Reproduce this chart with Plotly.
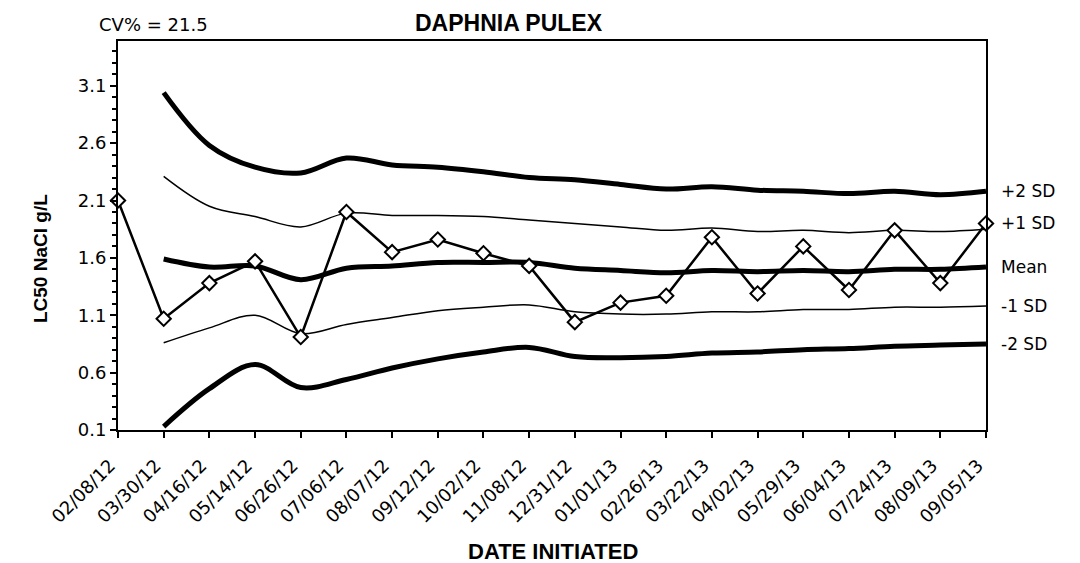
"""Daphnia pulex LC50 reference toxicant control chart."""

import plotly.graph_objects as go

dates = [
    "02/08/12", "03/30/12", "04/16/12", "05/14/12", "06/26/12",
    "07/06/12", "08/07/12", "09/12/12", "10/02/12", "11/08/12",
    "12/31/12", "01/01/13", "02/26/13", "03/22/13", "04/02/13",
    "05/29/13", "06/04/13", "07/24/13", "08/09/13", "09/05/13",
]
lc50 = [2.10, 1.07, 1.38, 1.57, 0.91, 2.00, 1.65, 1.76, 1.64, 1.53,
        1.04, 1.21, 1.27, 1.78, 1.29, 1.70, 1.32, 1.84, 1.38, 1.90]

# control limits (running values), none for the first test
mean = [None, 1.59, 1.52, 1.53, 1.41, 1.51, 1.53, 1.56, 1.56, 1.56,
        1.51, 1.49, 1.47, 1.49, 1.48, 1.49, 1.48, 1.50, 1.50, 1.52]
plus1 = [None, 2.31, 2.05, 1.96, 1.87, 1.99, 1.97, 1.97, 1.96, 1.93,
         1.90, 1.87, 1.84, 1.86, 1.83, 1.84, 1.82, 1.84, 1.83, 1.85]
minus1 = [None, 0.86, 0.99, 1.10, 0.94, 1.02, 1.08, 1.14, 1.17, 1.19,
          1.13, 1.11, 1.11, 1.13, 1.13, 1.15, 1.15, 1.17, 1.17, 1.18]
plus2 = [None, 3.04, 2.58, 2.39, 2.34, 2.47, 2.41, 2.39, 2.35, 2.30,
         2.28, 2.24, 2.20, 2.22, 2.19, 2.18, 2.16, 2.18, 2.15, 2.18]
minus2 = [None, 0.13, 0.46, 0.67, 0.47, 0.54, 0.64, 0.72, 0.78, 0.82,
          0.74, 0.73, 0.74, 0.77, 0.78, 0.80, 0.81, 0.83, 0.84, 0.85]

limit_labels = ["+2 SD", "+1 SD", "Mean", "-1 SD", "-2 SD"]
limit_label_y = [2.18, 1.90, 1.52, 1.18, 0.85]

ARIAL = "Liberation Sans, Arial, sans-serif"
WIDE = "DejaVu Sans, Verdana, sans-serif"

fig = go.Figure()

for series, width in [(plus2, 5), (plus1, 1.5), (mean, 5), (minus1, 1.5), (minus2, 5)]:
    fig.add_trace(
        go.Scatter(
            x=dates,
            y=series,
            mode="lines",
            line=dict(color="black", width=width, shape="spline", smoothing=1.0),
            showlegend=False,
            hoverinfo="skip",
        )
    )

fig.add_trace(
    go.Scatter(
        x=dates,
        y=lc50,
        mode="lines+markers",
        line=dict(color="black", width=2.5),
        marker=dict(symbol="diamond", size=11, color="white", line=dict(color="black", width=2)),
        cliponaxis=False,
        showlegend=False,
    )
)

for text, yv in zip(limit_labels, limit_label_y):
    fig.add_annotation(
        x=1, xref="paper", y=yv, yref="y",
        text=text, showarrow=False, xanchor="left", yanchor="middle", xshift=13,
        font=dict(family=WIDE, size=17, color="black"),
    )

fig.add_annotation(
    x=0.45, xref="paper", y=1.0848, yref="paper", xanchor="center", yanchor="top",
    text="<b>DAPHNIA PULEX</b>", showarrow=False,
    font=dict(family=ARIAL, size=23, color="black"),
)
fig.add_annotation(
    x=-0.0242, xref="paper", y=1.0437, yref="paper", xanchor="left", yanchor="middle",
    text="CV% = 21.5", showarrow=False,
    font=dict(family=WIDE, size=18, color="black"),
)
fig.add_annotation(
    x=-0.0899, xref="paper", y=0.442, yref="paper", xanchor="center", yanchor="middle",
    textangle=-90,
    text="<b>LC50 NaCl g/L</b>", showarrow=False,
    font=dict(family=ARIAL, size=19, color="black"),
)
fig.add_annotation(
    x=0.501, xref="paper", y=-0.3136, yref="paper", xanchor="center", yanchor="middle",
    text="<b>DATE INITIATED</b>", showarrow=False,
    font=dict(family=ARIAL, size=22, color="black"),
)

# page body adds 8px on the top/left, so the figure is 8px smaller
fig.update_layout(
    width=1072,
    height=555,
    margin=dict(l=110, r=94, t=33, b=133),
    plot_bgcolor="white",
    paper_bgcolor="white",
    font=dict(family=WIDE, size=17, color="black"),
)
fig.update_xaxes(
    type="category",
    range=[0, len(dates) - 1],
    tickangle=-45,
    ticks="outside",
    ticklen=6,
    tickwidth=2,
    tickcolor="black",
    ticklabelstandoff=10,
    ticklabelshift=-8,
    showline=True,
    linecolor="black",
    linewidth=2,
    mirror=True,
    showgrid=False,
    tickfont=dict(family=WIDE, size=18),
)
fig.update_yaxes(
    range=[0.1, 3.49],
    tick0=0.1,
    dtick=0.5,
    tickformat=".1f",
    ticks="outside",
    ticklen=6,
    tickwidth=2,
    tickcolor="black",
    minor=dict(tick0=0.1, dtick=0.1, ticks="outside", ticklen=4, tickwidth=1.5, tickcolor="black", showgrid=False),
    showline=True,
    linecolor="black",
    linewidth=2,
    mirror=True,
    showgrid=False,
    zeroline=False,
    tickfont=dict(family=WIDE, size=18),
)

fig.write_html("out.html")
